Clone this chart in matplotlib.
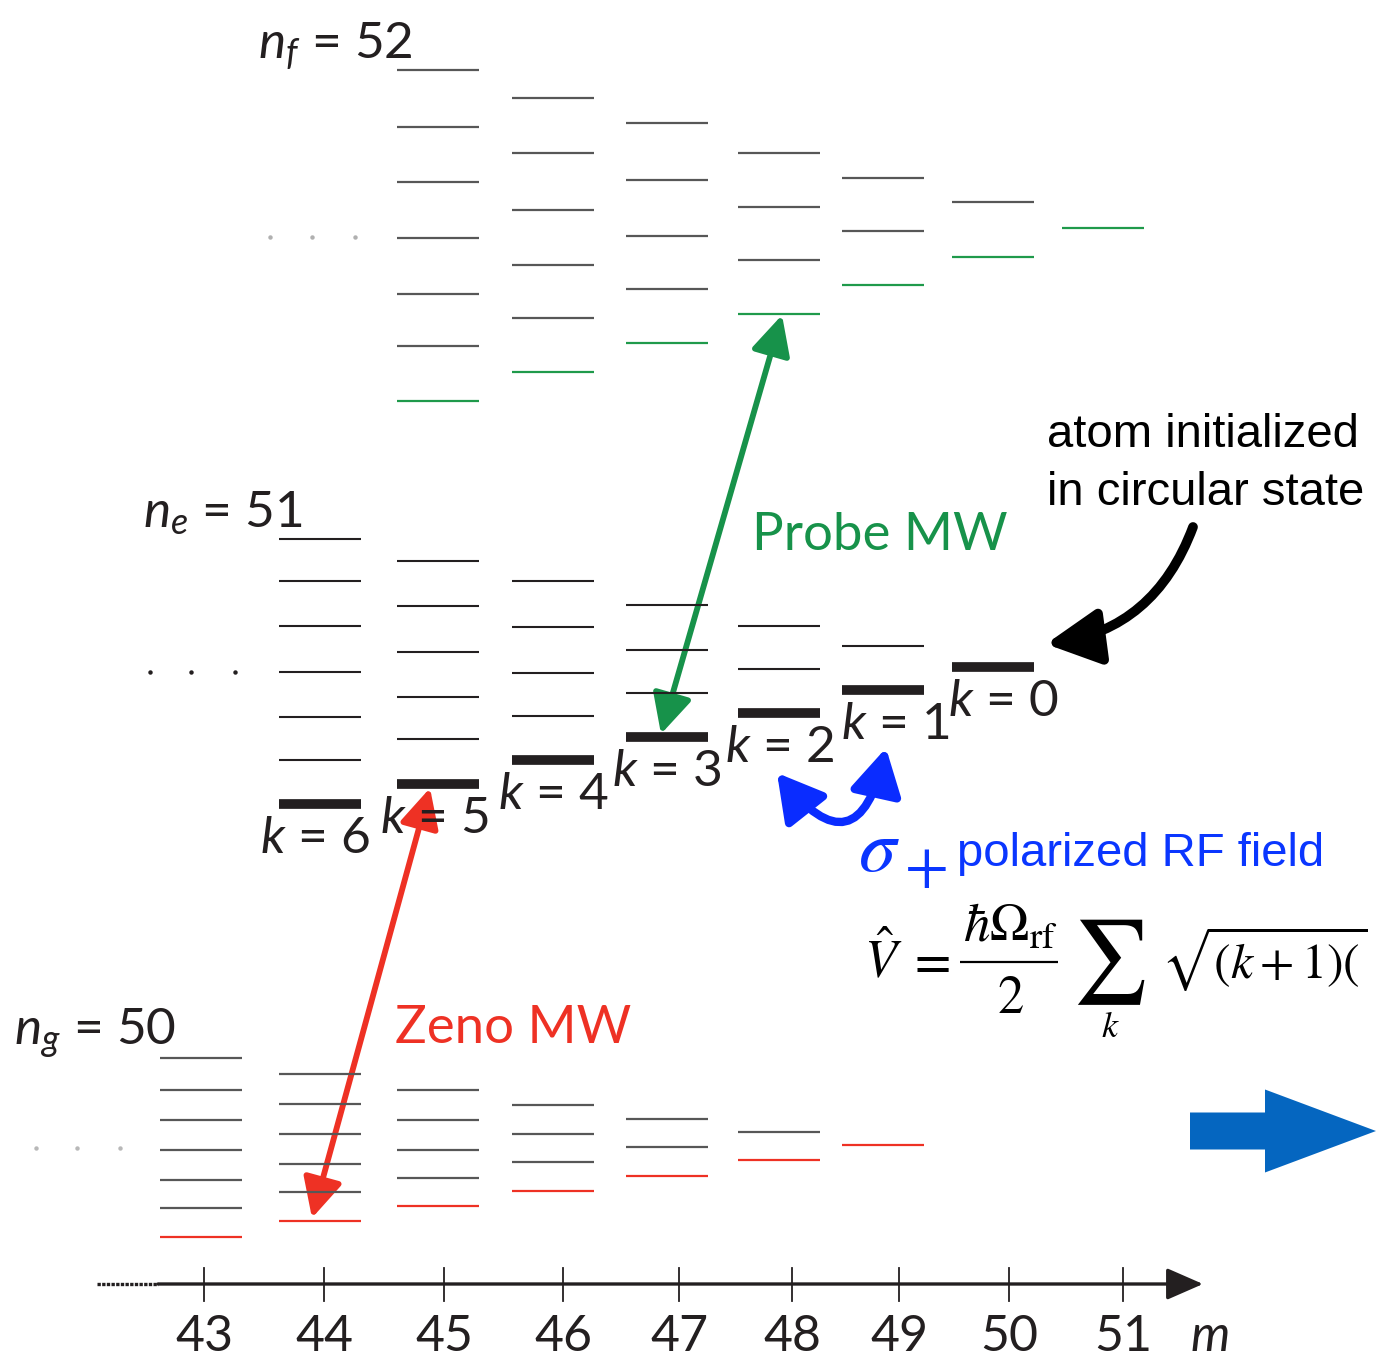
import matplotlib
matplotlib.use("Agg")
import matplotlib.pyplot as plt
from matplotlib.patches import FancyArrowPatch, FancyArrow

plt.rcParams['mathtext.fontset'] = 'custom'
plt.rcParams['mathtext.rm'] = 'Lato'
plt.rcParams['mathtext.it'] = 'Lato:italic'
plt.rcParams['font.family'] = ['Lato', 'DejaVu Sans']

# ---------------- data ----------------
m_values = [43, 44, 45, 46, 47, 48, 49, 50, 51]
tick_labels = ['43', '44', '45', '46', '47', '48', '49', '50', '51']

# energy-level heights (drawing units, downward) per m for each manifold
nf_m = [45, 46, 47, 48, 49, 50, 51]
nf_levels = [[70, 127, 182, 238, 294, 346, 401],
             [98, 153, 210, 265, 318, 372],
             [123, 180, 236, 289, 343],
             [153, 207, 260, 314],
             [178, 231, 285],
             [202, 257],
             [228]]
ne_m = [44, 45, 46, 47, 48, 49, 50]
ne_levels = [[539, 581, 626, 672, 717, 760, 804],
             [561, 606, 652, 697, 739, 784],
             [581, 627, 673, 716, 760],
             [605, 650, 693, 737],
             [626, 669, 713],
             [646, 690],
             [667]]
ng_m = [43, 44, 45, 46, 47, 48, 49]
ng_levels = [[1058, 1090, 1120, 1150, 1180, 1208, 1237],
             [1074, 1104, 1134, 1164, 1192, 1221],
             [1090, 1120, 1150, 1178, 1206],
             [1105, 1134, 1162, 1191],
             [1119, 1147, 1176],
             [1132, 1160],
             [1145]]
k_labels = ['6', '5', '4', '3', '2', '1', '0']
manifold_labels = ['f', 'e', 'g']
manifold_n = ['52', '51', '50']

# ---------------- layout ----------------
col_center = dict(zip(m_values, [201, 320, 438, 553, 667, 779, 883, 993, 1103]))
tick_x = dict(zip(m_values, [204, 324, 444, 563, 679, 792, 899, 1009, 1123]))
k_label_x = [260, 380, 498, 612, 725, 841, 948]
HALF = 41

GRAY = '#575757'
BLACK = '#231f20'
GREEN = '#1f9a4b'
RED = '#ee3124'
BLUE_TXT = '#0a36ff'
BLUE_CURVE = '#0a2cff'
BLUE_BIG = '#0566c0'

fig = plt.figure(figsize=(13.76, 13.61), dpi=100)
ax = fig.add_axes([0, 0, 1, 1])
ax.set_xlim(0, 1376)
ax.set_ylim(1361, 0)
ax.axis('off')


def draw_manifold(ms, levels, color, last_color, lw, last_lw):
    for m, ys in zip(ms, levels):
        c = col_center[m]
        for i, y in enumerate(ys):
            last = i == len(ys) - 1
            ax.plot([c - HALF, c + HALF], [y, y],
                    color=last_color if last else color,
                    lw=last_lw if last else lw, solid_capstyle='butt')


draw_manifold(nf_m, nf_levels, GRAY, GREEN, 1.6, 1.6)
draw_manifold(ne_m, ne_levels, BLACK, BLACK, 1.5, 7.0)
draw_manifold(ng_m, ng_levels, GRAY, RED, 1.6, 1.6)

# k labels below thick (circular ladder) levels
for x, ys, k in zip(k_label_x, ne_levels, k_labels):
    ax.text(x, ys[-1] + 49, r'$k$ = ' + k, fontsize=37,
            color=BLACK, ha='left', va='baseline')

# ellipsis dots
for xs, y, col in [([270, 312, 355], 237, '#b0b0b0'),
                   ([150, 191, 235], 672, BLACK),
                   ([36, 77, 120], 1148, '#b8b8b8')]:
    ax.plot(xs, [y] * 3, 'o', ms=3.2, color=col, mec='none')

# manifold labels
for (x, yb), sub, n in zip([(258, 57), (143, 527), (14, 1043)], manifold_labels, manifold_n):
    ax.text(x, yb, r'$n_{' + sub + '}$ = ' + n, fontsize=37, color=BLACK,
            ha='left', va='baseline')

# m axis
ax.plot([97, 158], [1284, 1284], color=BLACK, lw=2.4, ls=(0, (1.0, 0.4)))
ax.add_patch(FancyArrowPatch((158, 1284), (1203, 1284), arrowstyle='-|>,head_length=1.6,head_width=0.7',
                             mutation_scale=14, lw=2.4, color=BLACK, shrinkA=0, shrinkB=0))
for m, lab in zip(m_values, tick_labels):
    x = tick_x[m]
    ax.plot([x, x], [1268, 1301], color=BLACK, lw=1.3)
    ax.text(x, 1351, lab, fontsize=36, color=BLACK, ha='center', va='baseline')
ax.text(1190, 1351, r'$m$', fontsize=36, color=BLACK, ha='left', va='baseline')

# Probe MW arrow (ne k=3 at m=47  <->  nf lowest at m=48)
ax.add_patch(FancyArrowPatch((col_center[47] - 6, ne_levels[3][-1] - 3), (col_center[48] + 3, nf_levels[3][-1] + 1),
                             arrowstyle='<|-|>,head_length=2.0,head_width=1.0', mutation_scale=12,
                             lw=4.2, color='#17924a', shrinkA=0, shrinkB=0))
ax.text(752, 550, 'Probe MW', fontsize=38, color='#17924a', ha='left', va='baseline')

# Zeno MW arrow (ng lowest at m=44 <-> ne k=5 at m=45)
ax.add_patch(FancyArrowPatch((col_center[44] - 8, ng_levels[1][-1] - 3), (col_center[45] - 8, ne_levels[1][-1] + 4),
                             arrowstyle='<|-|>,head_length=2.0,head_width=1.0', mutation_scale=12,
                             lw=4.2, color=RED, shrinkA=0, shrinkB=0))
ax.text(395, 1043, 'Zeno MW', fontsize=38, color=RED, ha='left', va='baseline')

# atom initialized annotation
ax.text(1047, 447, 'atom initialized', fontsize=34, family='Liberation Sans',
        color='black', ha='left', va='baseline')
ax.text(1047, 505, 'in circular state', fontsize=34, family='Liberation Sans',
        color='black', ha='left', va='baseline')
ax.add_patch(FancyArrowPatch((1193, 527), (col_center[50] + 53, ne_levels[6][-1] - 23),
                             connectionstyle='arc3,rad=-0.3',
                             arrowstyle='-|>,head_length=2.7,head_width=1.4', mutation_scale=12,
                             lw=7, color='black', shrinkA=0, shrinkB=0))

# blue curved RF arrow
ax.add_patch(FancyArrowPatch((777, 773), (886, 748), connectionstyle='arc3,rad=1.05',
                             arrowstyle='<|-|>,head_length=2.3,head_width=1.3', mutation_scale=12,
                             lw=6, color=BLUE_CURVE, shrinkA=0, shrinkB=0))
ax.text(858, 871, r'$\sigma$', fontsize=54, color=BLUE_TXT, math_fontfamily='stix',
        ha='left', va='baseline')
ax.text(904, 885, r'$+$', fontsize=46, color=BLUE_TXT, math_fontfamily='stix',
        ha='left', va='baseline')
ax.text(957, 866, 'polarized RF field', fontsize=34, family='Liberation Sans',
        color=BLUE_TXT, ha='left', va='baseline')

# Hamiltonian (only the part visible in the source figure)
EQ = dict(color='black', math_fontfamily='stix', va='baseline')
ax.text(864, 977, r'$\hat{V}$', fontsize=38, ha='left', **EQ)
ax.text(907, 977, r'$=$', fontsize=38, ha='left', **EQ)
ax.text(1010, 942, r'$\hbar\mathit{Ω}_{\rm rf}$', fontsize=38, ha='center', **EQ)
ax.plot([960, 1058], [962, 962], color='black', lw=1.6, solid_capstyle='butt')
ax.text(1010, 1013, r'$2$', fontsize=38, ha='center', **EQ)
ax.text(1109, 962, r'$\sum$', fontsize=60, ha='center', color='black',
        math_fontfamily='stix', va='center')
ax.text(1110, 1037, r'$k$', fontsize=26, ha='center', **EQ)
ax.text(1161, 978, r'$\sqrt{(k+1)(}$', fontsize=36, ha='left', **EQ)

# big blue arrow
ax.add_patch(FancyArrow(1190, 1131, 186, 0, width=37, head_width=83, head_length=111,
                        length_includes_head=True, color=BLUE_BIG, lw=0))

fig.savefig('out.png', dpi=100)
